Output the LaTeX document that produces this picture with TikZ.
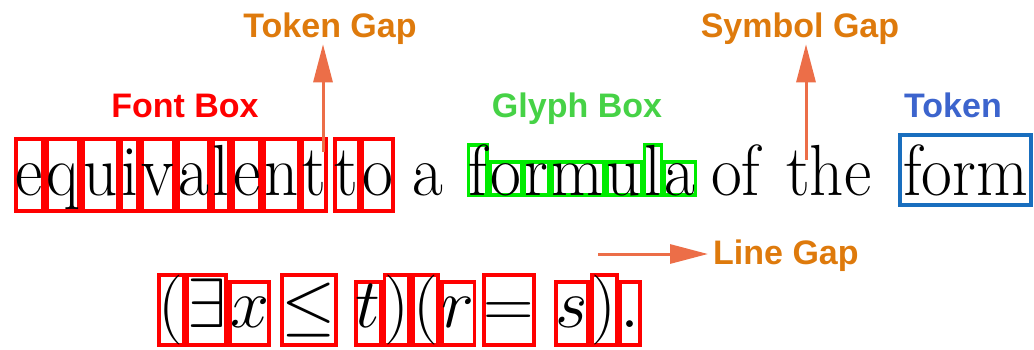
\RequirePackage{fix-cm}
\documentclass[tikz,border=0pt]{standalone}
\usepackage{graphicx}
\usepackage{fontspec}
\newfontfamily\labfont{Liberation Sans}
\usetikzlibrary{arrows.meta}
\newcommand{\vstr}[1]{\scalebox{1}[1.08]{#1}}
\definecolor{fbred}{RGB}{255,0,0}
\definecolor{gbgreen}{RGB}{0,235,0}
\definecolor{tkblue}{RGB}{25,110,190}
\definecolor{gapor}{RGB}{222,122,12}
\definecolor{arrc}{RGB}{236,110,72}
\definecolor{glabgreen}{RGB}{70,210,70}
\definecolor{tlabblue}{RGB}{60,100,205}
\begin{document}
\begin{tikzpicture}[x=1pt,y=-1pt,
  txt/.style={font=\fontsize{67}{80}\selectfont, inner sep=0pt, anchor=base west},
  fbx/.style={txt, draw=fbred, line width=3.8pt, text height=56pt, text depth=16pt},
  gbtall/.style={txt, draw=gbgreen, line width=3.4pt, text height=50pt, text depth=0pt},
  gbshort/.style={txt, draw=gbgreen, line width=3.4pt, text height=33pt, text depth=0pt},
  mtxt/.style={font=\fontsize{70}{80}\selectfont, inner sep=0pt, anchor=base west, draw=fbred, line width=3.8pt, text depth=18pt},
  mT/.style={mtxt, text height=52pt},
  mS/.style={mtxt, text height=45pt},
  tokbox/.style={draw=tkblue, line width=4pt},
  lab/.style={font=\labfont\bfseries\fontsize{34}{40}\selectfont, inner sep=0pt, anchor=base},
  garr/.style={draw=arrc, line width=3pt, -{Triangle[length=38pt,width=19pt]}}
]
\useasboundingbox (0,0) rectangle (1034,349);

% top line: equivalent
\coordinate (eqE0) at (14,195);
\foreach \c [count=\i, remember=\i as \j (initially 0)] in {e,q,u,i,v,a,l,e,n,t}{
  \node[fbx] (eq\i) at (eqE\j) {\vstr{\c}};
  \coordinate (eqE\i) at (eq\i.base east);
}
% to
\coordinate (toE0) at (333,195);
\foreach \c [count=\i, remember=\i as \j (initially 0)] in {t,o}{
  \node[fbx] (to\i) at (toE\j) {\vstr{\c}};
  \coordinate (toE\i) at (to\i.base east);
}
% a
\node[txt] (wa) at (412,195) {\vstr{a}};
% formula (glyph boxes)
\coordinate (fmE0) at (467,195);
\foreach \c/\h [count=\i, remember=\i as \j (initially 0)] in {f/tall,o/short,r/short,m/short,u/short,l/tall,a/short}{
  \node[gb\h] (fm\i) at (fmE\j) {\vstr{\c}};
  \coordinate (fmE\i) at (fm\i.base east);
}
% of the
\node[txt] (wof) at (711,195) {\vstr{of}};
\node[txt] (wthe) at (786,195) {\vstr{the}};
% form (token)
\begin{scope}
  \clip (900,120) rectangle (1029,215);
  \node[txt] (wform) at (903,195) {\vstr{form}};
\end{scope}
\draw[tokbox] (900,135) rectangle (1031,205);

% bottom line
\node[mT] (m1) at (157,327) {$($};
\node[mT] (m2) at (m1.base east) {$\exists$};
\node[mS] (m3) at (m2.base east) {$x$};
\node[mT] (m4) at (280,327) {$\leq$};
\node[mS] (m5) at (354,327) {$t$};
\node[mT] (m6) at (m5.base east) {$)$};
\node[mT] (m7) at (m6.base east) {$($};
\node[mS] (m8) at (m7.base east) {$r$};
\node[mT] (m9) at (482,327) {$=$};
\node[mS] (m10) at (554,327) {$s$};
\node[mT] (m11) at (m10.base east) {$)$};
\node[mS] (m12) at (m11.base east) {$.$};

% labels
\node[lab, text=fbred] (lfont) at (185,117) {Font Box};
\node[lab, text=glabgreen] (lglyph) at (577,117) {Glyph Box};
\node[lab, text=tlabblue] (ltoken) at (953,117) {Token};
\node[lab, text=gapor] (ltgap) at (330,37) {Token Gap};
\node[lab, text=gapor] (lsgap) at (800,37) {Symbol Gap};
\node[lab, text=gapor, anchor=base west] (llgap) at (713,264) {Line Gap};

% gap arrows
\coordinate (tg) at (323,152);
\coordinate (sg) at (806,160);
\coordinate (lg) at (598,254);
\draw[garr] (tg) -- (tg |- ltgap.south);
\draw[garr] (sg) -- (sg |- lsgap.south);
\draw[garr, shorten >=5pt] (lg) -- (lg -| llgap.west);
\end{tikzpicture}
\end{document}
